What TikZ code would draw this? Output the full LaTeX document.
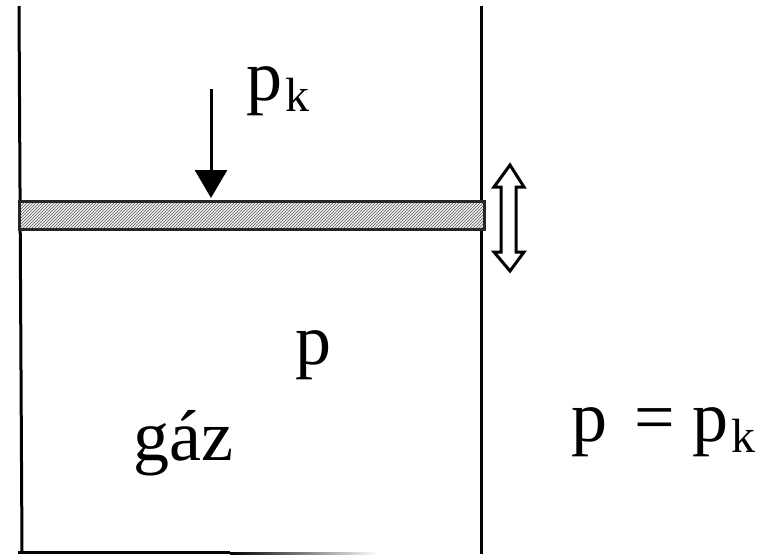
\documentclass[tikz,border=0pt]{standalone}
\usepackage{fontspec}
\setmainfont{Liberation Serif}
\usetikzlibrary{arrows.meta,patterns}

\tikzset{
    wall/.style={line width=3pt, black},
    bigtext/.style={inner sep=0pt, anchor=base west, font=\fontsize{72pt}{72pt}\selectfont}
}

\newcommand{\subk}{\kern3pt\raisebox{-11pt}{\fontsize{48pt}{48pt}\selectfont k}}

\begin{document}
\begin{tikzpicture}[>=Stealth, x=1pt, y=-1pt]

    \useasboundingbox (0,0) rectangle (767,554);

    \coordinate (wall left top) at (19,6);
    \coordinate (wall left bottom) at (22,552);
    \coordinate (wall right top) at (481,6);
    \coordinate (wall right bottom) at (481,554);

    \draw[wall] (wall left top) -- (wall left bottom);
    \draw[wall] (wall right top) -- (wall right bottom);

    % floor fades out
    \fill[black] (18,550.8) rectangle (230,554);
    \shade[
        left color=black,
        right color=white
    ] (230,552) rectangle (378,554);

    % piston
    \fill[gray!10] (19,202) rectangle (484,229);
    \fill[
        pattern=north east lines,
        pattern color=black!65
    ] (19,202) rectangle (484,229);
    \draw[
        line width=3pt,
        black!85
    ] (19,201.5) rectangle (484,229.5);

    \coordinate (load top) at (211,89);
    \coordinate (load tip) at (211,198);

    \draw[
        -{Triangle[length=28pt, width=32pt]},
        line width=3pt
    ] (load top) -- (load tip);

    % piston can move both ways
    \draw[
        line width=3pt,
        line join=miter,
        fill=white
    ] (510,165) -- (524,187) -- (516,187) -- (516,252) -- (524,252)
      -- (510,271) -- (494,252) -- (501,252) -- (501,187) -- (494,187) -- cycle;

    \node[bigtext] (load label) at (246,100) {p\subk};
    \node[bigtext] (pressure label) at (295,364) {p};
    \node[bigtext] (gas label) at (133,460) {gáz};
    \node[bigtext] (equal label) at (571,441) {p\kern9pt{} = p\subk};

\end{tikzpicture}
\end{document}
